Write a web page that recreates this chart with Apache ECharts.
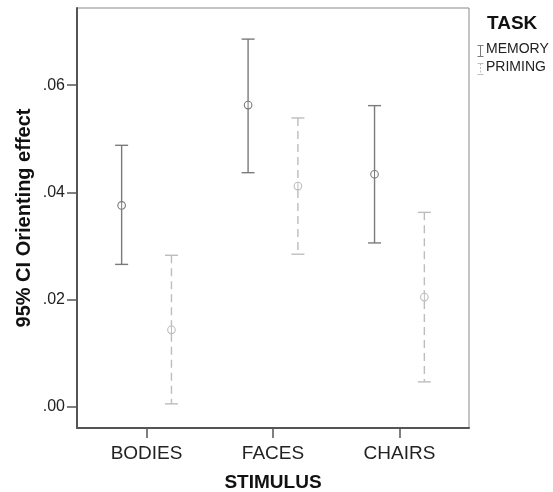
<!DOCTYPE html>
<html>
<head>
<meta charset="utf-8">
<script src="https://cdn.jsdelivr.net/npm/echarts@6/dist/echarts.min.js"></script>
<style>html,body{margin:0;padding:0;background:#fff}#c{width:553px;height:492px}</style>
</head>
<body>
<div id="c"></div>
<script>
var categories = ['BODIES', 'FACES', 'CHAIRS'];
var tasks = ['MEMORY', 'PRIMING'];
var memoryMean = [0.0376, 0.0563, 0.0434];
var memoryLow = [0.0266, 0.0437, 0.0306];
var memoryHigh = [0.0488, 0.0686, 0.0562];
var primingMean = [0.0144, 0.0412, 0.0205];
var primingLow = [0.0006, 0.0285, 0.0047];
var primingHigh = [0.0283, 0.0539, 0.0363];
var yTicks = [0, 0.02, 0.04, 0.06];

var offset = 0.197;
function build(mean, low, high, off) {
  return categories.map(function (c, i) { return [i + off, low[i], high[i], mean[i]]; });
}
function makeRender(color, dashed, lw) {
  return function (params, api) {
    var x = api.value(0);
    var pLow = api.coord([x, api.value(1)]);
    var pHigh = api.coord([x, api.value(2)]);
    var pMean = api.coord([x, api.value(3)]);
    var hw = 6.5;
    var st = { stroke: color, lineWidth: lw, fill: 'none' };
    var dst = { stroke: color, lineWidth: lw, fill: 'none', lineDash: dashed ? [8, 5] : null };
    var r = 3.8;
    return {
      type: 'group',
      children: [
        { type: 'line', shape: { x1: pHigh[0], y1: pHigh[1], x2: pMean[0], y2: pMean[1] - r }, style: dst },
        { type: 'line', shape: { x1: pMean[0], y1: pMean[1] + r, x2: pLow[0], y2: pLow[1] }, style: dst },
        { type: 'line', shape: { x1: pHigh[0] - hw, y1: pHigh[1], x2: pHigh[0] + hw, y2: pHigh[1] }, style: st },
        { type: 'line', shape: { x1: pLow[0] - hw, y1: pLow[1], x2: pLow[0] + hw, y2: pLow[1] }, style: st },
        { type: 'circle', shape: { cx: pMean[0], cy: pMean[1], r: r }, style: { stroke: color, lineWidth: 1.1, fill: 'none' } },
        { type: 'line', shape: { x1: pMean[0], y1: pMean[1] - r, x2: pMean[0], y2: pMean[1] + r }, style: { stroke: color, lineWidth: 1 } }
      ]
    };
  };
}

var chart = echarts.init(document.getElementById('c'));
var font = 'Liberation Sans, Arial, sans-serif';
chart.setOption({
  animation: false,
  backgroundColor: '#fff',
  grid: { left: 77, top: 8, right: 84, bottom: 64, show: true, borderColor: '#8a8a8a', borderWidth: 1,
    backgroundColor: 'transparent', containLabel: false, outerBoundsMode: 'none' },
  xAxis: {
    type: 'value', min: -0.55, max: 2.55,
    splitLine: { show: false },
    axisLine: { show: true, onZero: false, lineStyle: { color: '#555', width: 2 } },
    axisTick: { show: true, length: 10, customValues: [0, 1, 2], lineStyle: { color: '#555', width: 1.5 } },
    axisLabel: { customValues: [0, 1, 2], margin: 16, fontFamily: font, fontSize: 19, color: '#222',
      formatter: function (v) { return categories[Math.round(v)] || ''; } },
    name: 'STIMULUS', nameLocation: 'middle', nameGap: 45, nameMoveOverlap: false,
    nameTextStyle: { fontFamily: font, fontSize: 19, fontWeight: 'bold', color: '#111' }
  },
  yAxis: {
    type: 'value', min: -0.0039, max: 0.0744,
    splitLine: { show: false },
    axisLine: { show: true, onZero: false, lineStyle: { color: '#555', width: 2 } },
    axisTick: { show: true, length: 10, customValues: yTicks, lineStyle: { color: '#555', width: 1.5 } },
    axisLabel: { customValues: yTicks, margin: 12, fontFamily: font, fontSize: 16, color: '#222',
      formatter: function (v) { return v.toFixed(2).replace(/^0/, ''); } },
    name: '95% CI Orienting effect', nameLocation: 'middle', nameGap: 43, nameRotate: 90, nameMoveOverlap: false,
    nameTextStyle: { fontFamily: font, fontSize: 20, fontWeight: 'bold', color: '#111' }
  },
  series: [
    { name: tasks[0], type: 'custom', renderItem: makeRender('#7a7a7a', false, 1.4),
      data: build(memoryMean, memoryLow, memoryHigh, -offset), encode: { x: 0, y: [1, 2, 3] }, clip: false },
    { name: tasks[1], type: 'custom', renderItem: makeRender('#bdbdbd', true, 1.4),
      data: build(primingMean, primingLow, primingHigh, offset), encode: { x: 0, y: [1, 2, 3] }, clip: false }
  ],
  graphic: [
    { type: 'text', left: 487, top: 14, style: { text: 'TASK', fontFamily: font, fontSize: 19, fontWeight: 'bold', fill: '#111' } },
    { type: 'group', left: 475, top: 43, children: [
      { type: 'line', shape: { x1: 3, y1: 0, x2: 3, y2: 11 }, style: { stroke: '#7a7a7a', lineWidth: 1 } },
      { type: 'line', shape: { x1: 0, y1: 0, x2: 6, y2: 0 }, style: { stroke: '#7a7a7a', lineWidth: 1 } },
      { type: 'line', shape: { x1: 0, y1: 11, x2: 6, y2: 11 }, style: { stroke: '#7a7a7a', lineWidth: 1 } }
    ]},
    { type: 'text', left: 486, top: 42, style: { text: tasks[0], fontFamily: font, fontSize: 14, fill: '#222' } },
    { type: 'group', left: 475, top: 61, children: [
      { type: 'line', shape: { x1: 3, y1: 0, x2: 3, y2: 11 }, style: { stroke: '#bdbdbd', lineWidth: 1, lineDash: [2, 1.5] } },
      { type: 'line', shape: { x1: 0, y1: 0, x2: 6, y2: 0 }, style: { stroke: '#bdbdbd', lineWidth: 1 } },
      { type: 'line', shape: { x1: 0, y1: 11, x2: 6, y2: 11 }, style: { stroke: '#bdbdbd', lineWidth: 1 } }
    ]},
    { type: 'text', left: 486, top: 60, style: { text: tasks[1], fontFamily: font, fontSize: 14, fill: '#222' } }
  ]
});
</script>
</body>
</html>
